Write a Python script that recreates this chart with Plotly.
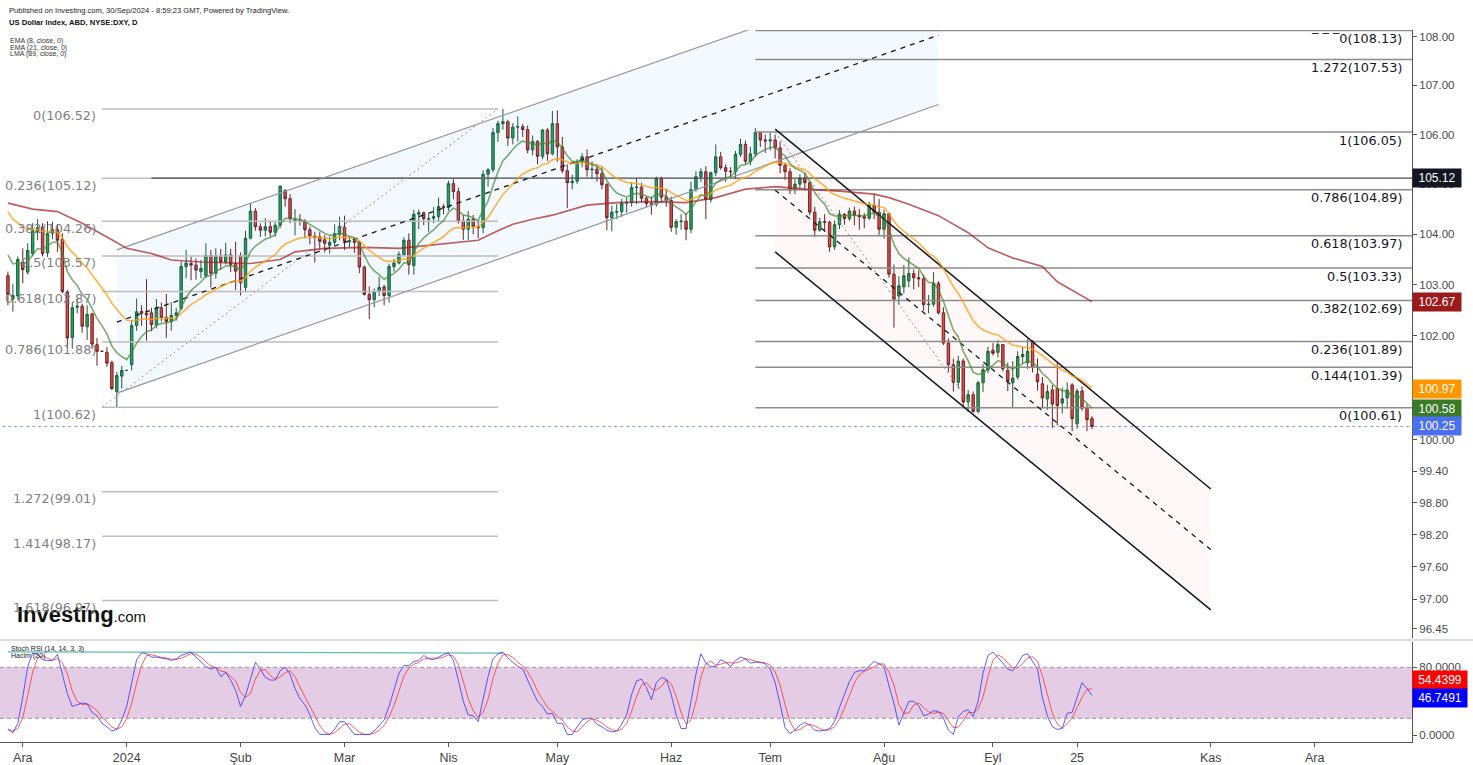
import math
import pandas as pd
import plotly.graph_objects as go

# ---------------- data ----------------
DATES = pd.bdate_range("2023-11-28", "2024-09-30")

OPEN = (
    [103.18, 102.72, 102.78] +  # Nov
    [103.45, 103.25, 103.62, 104.05, 104.14, 103.63, 104.02, 104.09, 103.90, 102.86, 101.97,
     102.56, 102.58, 102.18, 102.43, 101.83, 101.70, 101.68, 101.48, 100.92, 101.22] +  # Dec
    [101.33, 101.44, 102.20, 102.48, 102.44, 102.45, 102.22, 102.55, 102.36, 102.28, 102.40,
     102.54, 103.36, 103.42, 103.39, 103.26, 103.18, 103.58, 103.23, 103.57, 103.45, 103.59, 103.42] +  # Jan
    [103.57, 102.95, 103.92, 104.46, 104.15, 104.08, 104.15, 104.04, 104.18, 104.87, 104.71,
     104.26, 104.28, 104.26, 104.09, 103.96, 103.95, 103.89, 103.78, 103.84, 104.00] +  # Feb
    [104.14, 103.85, 103.87, 103.84, 103.35, 102.81, 102.71, 102.87, 102.96, 102.79, 103.36,
     103.43, 103.60, 103.88, 103.38, 104.40, 104.43, 104.30, 104.32, 104.35, 104.55] +  # Mar
    [104.53, 105.01, 104.85, 104.26, 104.10, 104.30, 104.15, 104.13, 105.20, 105.29, 106.04,
     106.22, 106.26, 105.93, 106.15, 106.16, 106.10, 105.69, 105.86, 105.56, 106.09, 105.61] +  # Apr
    [106.22, 105.75, 105.27, 105.03, 105.06, 105.45, 105.55, 105.29, 105.30, 105.21, 104.99,
     104.33, 104.44, 104.45, 104.62, 104.63, 104.93, 104.94, 104.72, 104.61, 104.60, 105.11, 104.74] +  # May
    [104.67, 104.14, 104.25, 104.26, 104.10, 104.89, 105.15, 105.25, 104.69, 105.23,
     105.55, 105.33, 105.26, 105.25, 105.60, 105.80, 105.46, 105.61, 106.04, 105.89] +  # Jun
    [105.87, 105.89, 105.73, 105.38, 105.25, 104.88, 105.00, 105.12, 105.03, 104.44, 104.08,
     104.25, 104.24, 103.75, 104.19, 104.40, 104.31, 104.46, 104.38, 104.35, 104.32, 104.57, 104.44] +  # Jul
    [104.10, 104.41, 103.21, 102.78, 102.96, 103.08, 103.22, 103.14, 103.12, 102.61, 102.62,
     103.03, 102.45, 101.86, 101.44, 101.10, 101.51, 100.72, 100.86, 100.54, 101.09, 101.34] +  # Aug
    [101.72, 101.68, 101.83, 101.33, 101.09, 101.20, 101.60, 101.48, 101.88, 101.25, 101.07,
     100.78, 100.95, 100.98, 100.70, 100.80, 101.05, 100.30, 100.93, 100.60, 100.40]  # Sep
)
HIGH = (
    [103.26, 103.02, 103.56] +
    [103.72, 103.82, 104.22, 104.30, 104.22, 104.26, 104.25, 104.20, 104.02, 102.90, 102.65,
     102.73, 102.63, 102.60, 102.45, 101.96, 101.70, 101.78, 101.52, 101.30, 101.42] +
    [101.33, 102.30, 102.73, 102.60, 103.11, 102.55, 102.72, 102.65, 102.82, 102.66, 102.55,
     103.46, 103.69, 103.56, 103.52, 103.49, 103.82, 103.69, 103.72, 103.71, 103.83, 103.71, 103.85] +
    [103.64, 104.07, 104.60, 104.52, 104.22, 104.32, 104.25, 104.24, 104.97, 104.90, 104.80,
     104.50, 104.40, 104.30, 104.15, 104.05, 104.05, 103.98, 103.95, 104.20, 104.35] +
    [104.37, 103.95, 103.90, 103.87, 103.38, 102.97, 102.93, 103.16, 103.00, 103.42, 103.51,
     103.66, 103.94, 104.02, 104.49, 104.49, 104.45, 104.40, 104.54, 104.73, 104.60] +
    [105.07, 105.10, 104.93, 104.38, 104.46, 104.38, 104.28, 105.28, 105.32, 106.13, 106.28,
     106.52, 106.30, 106.23, 106.37, 106.21, 106.18, 105.98, 105.89, 106.11, 106.13, 106.48] +
    [106.49, 105.95, 105.40, 105.19, 105.50, 105.62, 105.70, 105.46, 105.37, 105.35, 105.02,
     104.57, 104.60, 104.70, 104.73, 105.04, 105.12, 105.02, 104.75, 104.75, 105.15, 105.15, 104.90] +
    [104.75, 104.30, 104.40, 104.42, 105.05, 105.26, 105.32, 105.36, 105.25, 105.80,
     105.65, 105.40, 105.34, 105.67, 105.91, 105.88, 105.75, 106.13, 106.05, 106.00] +
    [106.04, 106.00, 105.86, 105.43, 105.32, 105.10, 105.20, 105.22, 105.05, 104.55, 104.33,
     104.40, 104.27, 104.27, 104.48, 104.42, 104.53, 104.55, 104.50, 104.42, 104.65, 104.80, 104.70] +
    [104.49, 104.43, 103.40, 103.17, 103.39, 103.54, 103.30, 103.28, 103.20, 102.80, 103.25,
     103.07, 102.56, 101.95, 101.56, 101.61, 101.56, 100.95, 100.92, 101.13, 101.45, 101.79] +
    [101.86, 101.91, 101.84, 101.48, 101.51, 101.70, 101.79, 101.94, 101.92, 101.56, 101.20,
     101.05, 101.05, 101.48, 101.00, 101.10, 101.08, 100.98, 101.02, 100.68, 100.45]
)
LOW = (
    [102.60, 102.47, 102.70] +
    [103.03, 103.20, 103.56, 103.88, 103.56, 103.55, 103.90, 103.65, 102.83, 101.77, 101.75,
     102.44, 102.06, 101.92, 101.75, 101.42, 101.70, 101.40, 100.95, 100.62, 100.98] +
    [101.33, 101.33, 102.10, 102.20, 101.91, 102.09, 102.15, 102.28, 101.96, 102.10, 102.30,
     102.50, 103.13, 103.09, 103.10, 103.13, 103.13, 102.95, 103.12, 103.30, 103.40, 103.25, 102.90] +
    [102.79, 102.85, 103.90, 104.07, 103.95, 103.96, 103.95, 103.95, 104.12, 104.55, 104.22,
     103.98, 104.17, 103.92, 103.80, 103.44, 103.70, 103.64, 103.62, 103.78, 103.88] +
    [103.69, 103.74, 103.63, 103.23, 102.79, 102.33, 102.56, 102.78, 102.60, 102.65, 103.26,
     103.40, 103.57, 103.20, 103.20, 104.10, 104.18, 104.05, 104.22, 104.26, 104.40] +
    [104.47, 104.70, 104.21, 103.89, 103.89, 104.00, 103.92, 104.02, 104.95, 105.24, 105.85,
     106.10, 105.77, 105.80, 105.86, 105.95, 105.62, 105.58, 105.40, 105.50, 105.47, 105.58] +
    [105.45, 105.22, 104.52, 104.90, 105.00, 105.34, 105.15, 105.10, 105.05, 104.90, 104.08,
     104.06, 104.30, 104.35, 104.43, 104.55, 104.60, 104.64, 104.54, 104.39, 104.55, 104.62, 104.55] +
    [104.05, 103.99, 104.09, 103.88, 104.02, 104.85, 105.04, 104.30, 104.63, 105.16,
     105.29, 105.05, 105.13, 105.10, 105.55, 105.40, 105.38, 105.55, 105.75, 105.63] +
    [105.68, 105.52, 105.22, 105.09, 104.80, 104.80, 104.89, 104.87, 104.38, 103.95, 104.05,
     104.05, 103.65, 103.69, 104.10, 104.19, 104.26, 104.18, 104.09, 104.12, 104.28, 104.30, 103.99] +
    [103.91, 103.14, 102.16, 102.61, 102.83, 102.95, 102.91, 102.96, 102.49, 102.44, 102.57,
     102.42, 101.82, 101.30, 100.92, 100.98, 100.60, 100.53, 100.51, 100.50, 100.91, 101.28] +
    [101.62, 101.58, 101.31, 100.93, 100.62, 101.15, 101.47, 101.36, 101.29, 100.94, 100.60,
     100.57, 100.22, 100.27, 100.50, 100.60, 100.16, 100.21, 100.55, 100.16, 100.20]
)
CLOSE = (
    [102.81, 102.79, 103.50] +
    [103.30, 103.68, 104.07, 104.13, 103.62, 104.01, 104.09, 103.88, 102.87, 101.96, 102.55,
     102.58, 102.19, 102.42, 101.84, 101.70, 101.70, 101.47, 100.98, 101.23, 101.33] +
    [101.33, 102.20, 102.47, 102.44, 102.41, 102.22, 102.55, 102.36, 102.28, 102.40, 102.45,
     103.36, 103.43, 103.39, 103.29, 103.32, 103.58, 103.23, 103.57, 103.45, 103.59, 103.40, 103.27] +
    [103.04, 103.92, 104.46, 104.15, 104.08, 104.15, 104.04, 104.18, 104.96, 104.71, 104.31,
     104.29, 104.26, 104.09, 103.97, 103.94, 103.86, 103.82, 103.84, 104.01, 104.15] +
    [103.86, 103.87, 103.84, 103.35, 102.81, 102.71, 102.87, 102.95, 102.79, 103.36, 103.43,
     103.60, 103.88, 103.40, 104.40, 104.43, 104.31, 104.31, 104.35, 104.55, 104.53] +
    [105.01, 104.85, 104.26, 104.10, 104.30, 104.15, 104.13, 105.20, 105.29, 106.04, 106.22,
     106.26, 105.93, 106.15, 106.16, 106.10, 105.69, 105.86, 105.56, 106.09, 105.61, 106.22] +
    [105.75, 105.27, 105.03, 105.06, 105.45, 105.55, 105.29, 105.30, 105.21, 104.99, 104.33,
     104.44, 104.45, 104.62, 104.63, 104.93, 104.94, 104.72, 104.61, 104.60, 105.11, 104.74, 104.67] +
    [104.14, 104.25, 104.26, 104.10, 104.89, 105.15, 105.25, 104.69, 105.23, 105.55,
     105.33, 105.26, 105.25, 105.60, 105.80, 105.46, 105.61, 106.04, 105.89, 105.87] +
    [105.89, 105.73, 105.38, 105.25, 104.88, 105.00, 105.12, 105.03, 104.44, 104.08, 104.25,
     104.24, 103.75, 104.19, 104.40, 104.31, 104.46, 104.38, 104.35, 104.32, 104.57, 104.44, 104.10] +
    [104.41, 103.21, 102.72, 102.98, 103.18, 103.22, 103.14, 103.12, 102.61, 102.62, 103.03,
     102.45, 101.86, 101.44, 101.10, 101.51, 100.72, 100.86, 100.54, 101.09, 101.34, 101.70] +
    [101.66, 101.83, 101.36, 101.12, 101.18, 101.60, 101.64, 101.70, 101.39, 101.11, 100.80,
     100.92, 100.68, 100.65, 100.78, 100.95, 100.40, 100.93, 100.60, 100.38, 100.25]
)

STOCH_K = [
    7, 3, 14, 45, 81, 97, 95, 89, 88, 88, 95, 73, 49, 34, 36, 38, 37, 27, 23, 14, 10, 5, 7, 18, 34,
    61, 89, 97, 96, 92, 92, 91, 90, 88, 90, 94, 96, 98, 92, 86, 81, 78, 80, 69, 74,
    65, 53, 34, 47, 66, 86, 78, 68, 65, 65, 76, 80, 72, 55, 43, 36, 24, 9, 1, 1,
    1, 7, 16, 16, 9, 1, 1, 1, 1, 5, 12, 18, 34, 53, 73, 82, 82, 87, 88, 94,
    90, 89, 92, 95, 97, 88, 65, 40, 24, 23, 16, 42, 69, 90, 96,
    98, 91, 86, 81, 78, 64, 52, 40, 34, 25, 26, 14, 14, 1, 1, 10, 18, 20, 20, 13,
    10, 6, 4, 5, 13, 24, 48, 64, 66, 56, 42, 62, 68, 66, 48, 24, 8, 8, 38, 72,
    96, 85, 81, 81, 89, 86, 81, 88, 92, 90, 85, 86, 86, 84, 78, 62, 37, 9, 2, 6,
    12, 15, 12, 6, 5, 6, 8, 16, 33, 47, 63, 74, 76, 76, 81, 87, 84, 81, 58, 38,
    12, 27, 40, 40, 35, 23, 25, 29, 28, 20, 6, 1, 22, 28, 30, 22, 40, 73, 94, 98,
    92, 85, 78, 76, 84, 94, 96, 87, 78, 44, 23, 10, 7, 8, 26, 27, 45, 62, 55, 47,
]

LMA_DATES = ["2023-11-28", "2023-12-05", "2023-12-12", "2023-12-19", "2023-12-27", "2024-01-01",
             "2024-01-08", "2024-01-12", "2024-01-22", "2024-02-05", "2024-02-13", "2024-02-16",
             "2024-02-26", "2024-03-07", "2024-03-18", "2024-03-26", "2024-04-04", "2024-04-09",
             "2024-04-15", "2024-04-18", "2024-04-24", "2024-04-30", "2024-05-09", "2024-05-17",
             "2024-05-28", "2024-06-06", "2024-06-14", "2024-06-24", "2024-07-02", "2024-07-10",
             "2024-07-19", "2024-07-30", "2024-08-02", "2024-08-08", "2024-08-16", "2024-08-26",
             "2024-08-30", "2024-09-06", "2024-09-16", "2024-09-19", "2024-09-30"]
LMA_VALUES = [104.62, 104.50, 104.45, 104.22, 103.89, 103.72, 103.62, 103.49, 103.45, 103.42,
              103.50, 103.65, 103.72, 103.74, 103.72, 103.78, 103.85, 103.88, 104.07, 104.20,
              104.30, 104.38, 104.58, 104.63, 104.65, 104.63, 104.73, 104.90, 104.95, 104.90,
              104.86, 104.80, 104.73, 104.60, 104.37, 104.03, 103.73, 103.53, 103.36, 103.06, 102.67]
EMA8_START, EMA21_START = 103.59, 104.45

HACIM_DATES = ["2023-11-28", "2024-04-16"]
HACIM_VALUES = [98.2, 96.8]

LEFT_FIB_RATIOS = ["0", "0.236", "0.382", "0.5", "0.618", "0.786", "1", "1.272", "1.414", "1.618"]
LEFT_FIB_PRICES = [106.52, 105.12, 104.26, 103.57, 102.87, 101.88, 100.62, 99.01, 98.17, 96.97]
LEFT_FIB_DATES = ["2023-12-25", "2024-04-15"]
LEFT_FIB_TREND = [100.62, 106.52]

RIGHT_FIB_RATIOS = ["\u203e \u203e \u203e0", "1.272", "1", "0.786", "0.618", "0.5", "0.382", "0.236", "0.144", "0"]
RIGHT_FIB_PRICES = [108.13, 107.53, 106.05, 104.89, 103.97, 103.33, 102.69, 101.89, 101.39, 100.61]
RIGHT_FIB_DATES = ["2024-06-26", "2024-12-31"]
RIGHT_FIB_TREND_DATES = ["2024-07-02", "2024-08-27"]
RIGHT_FIB_TREND = [106.05, 100.61]

ASC_DATES = ["2023-12-28", "2024-08-16"]
ASC_TOP, ASC_MID, ASC_BOT = [103.69, 109.52], [102.27, 108.03], [100.89, 106.61]
DESC_DATES = ["2024-07-02", "2024-11-01"]
DESC_TOP, DESC_MID, DESC_BOT = [106.11, 99.06], [104.88, 97.92], [103.65, 96.80]

HLINE_DATES, HLINE_PRICE = ["2024-01-08", "2024-12-31"], 105.12
LAST_PRICE = 100.25
FULL_DATES = ["2023-11-20", "2024-12-31"]

PRICE_TAGS = [("105.12", 105.12, "#131722"), ("102.67", 102.67, "#9b1b1b"),
              ("100.97", 100.97, "#ff9800"), ("100.58", 100.58, "#3a7a26"),
              ("100.25", 100.25, "#4a6ff0")]
STOCH_TAGS = [("54.4399", 54.4399, "#ff0000", 9), ("46.7491", 46.7491, "#0000ff", -2)]

TICK_DATES = ["2023-12-01", "2024-01-01", "2024-02-01", "2024-03-01", "2024-04-01", "2024-05-01",
              "2024-06-03", "2024-07-01", "2024-08-01", "2024-09-02", "2024-09-25", "2024-11-01",
              "2024-12-02"]
TICK_TEXT = ["Ara", "2024", "Şub", "Mar", "Nis", "May", "Haz", "Tem", "Ağu", "Eyl", "25", "Kas", "Ara"]
Y_TICKS = [108, 107, 106, 105, 104, 103, 102, 101, 100, 99.4, 98.8, 98.2, 97.6, 97, 96.45]
STOCH_TICKS = [0, 40, 80]

assert len(OPEN) == len(HIGH) == len(LOW) == len(CLOSE) == len(STOCH_K) == len(DATES)

# ---------------- derived indicators ----------------
def ema(vals, span, start):
    a = 2.0 / (span + 1)
    out = [start]
    for v in vals[1:]:
        out.append(a * v + (1 - a) * out[-1])
    return out

ema8 = ema(CLOSE, 8, EMA8_START)
ema21 = ema(CLOSE, 21, EMA21_START)
stoch_d = pd.Series(STOCH_K, dtype=float).rolling(3, min_periods=1).mean().tolist()

# ---------------- layout frame ----------------
W, H = 1473, 765
PL, PR, PT, PB = 0, 1412, 30, 742
def px(x): return (x - PL) / (PR - PL)
def py(y): return (PB - y) / (PB - PT)

MAIN_BOTTOM, STOCH_TOP = 638, 642
lg = math.log10

fig = go.Figure()
SK = dict(hoverinfo="skip", showlegend=False)

def seg_trace(xs_list, ys_list, color, width, dash="solid", xa="x", ya="y"):
    xs, ys = [], []
    for a, b in zip(xs_list, ys_list):
        xs += list(a) + [None]
        ys += list(b) + [None]
    return go.Scatter(x=xs, y=ys, mode="lines", line=dict(color=color, width=width, dash=dash),
                      xaxis=xa, yaxis=ya, **SK)

# channel fills
fig.add_trace(go.Scatter(x=[ASC_DATES[0], ASC_DATES[1], ASC_DATES[1], ASC_DATES[0], ASC_DATES[0]],
                         y=[ASC_TOP[0], ASC_TOP[1], ASC_BOT[1], ASC_BOT[0], ASC_TOP[0]],
                         fill="toself", fillcolor="rgba(33,150,243,0.055)", mode="lines",
                         line=dict(width=0), **SK))
fig.add_trace(go.Scatter(x=[DESC_DATES[0], DESC_DATES[1], DESC_DATES[1], DESC_DATES[0], DESC_DATES[0]],
                         y=[DESC_TOP[0], DESC_TOP[1], DESC_BOT[1], DESC_BOT[0], DESC_TOP[0]],
                         fill="toself", fillcolor="rgba(244,67,54,0.035)", mode="lines",
                         line=dict(width=0), **SK))

# fib levels
fig.add_trace(seg_trace([LEFT_FIB_DATES] * len(LEFT_FIB_PRICES), [[p, p] for p in LEFT_FIB_PRICES],
                        "#bdbdbd", 1.5))
fig.add_trace(seg_trace([RIGHT_FIB_DATES] * len(RIGHT_FIB_PRICES), [[p, p] for p in RIGHT_FIB_PRICES],
                        "#8c8c8c", 1.5))
fig.add_trace(seg_trace([HLINE_DATES], [[HLINE_PRICE, HLINE_PRICE]], "#4a4a4a", 1.2))
fig.add_trace(seg_trace([FULL_DATES], [[LAST_PRICE, LAST_PRICE]], "rgba(74,111,240,0.7)", 1, "dot"))

# trend lines
fig.add_trace(seg_trace([LEFT_FIB_DATES, RIGHT_FIB_TREND_DATES], [LEFT_FIB_TREND, RIGHT_FIB_TREND],
                        "#9a9a9a", 1, "2px,3px"))
fig.add_trace(seg_trace([ASC_DATES, ASC_DATES], [ASC_TOP, ASC_BOT], "#9598a1", 1.2))
fig.add_trace(seg_trace([ASC_DATES, DESC_DATES], [ASC_MID, DESC_MID], "#131722", 1.3, "5px,5px"))
fig.add_trace(seg_trace([DESC_DATES, DESC_DATES], [DESC_TOP, DESC_BOT], "#131722", 1.5))

# candles
fig.add_trace(go.Candlestick(
    x=DATES, open=OPEN, high=HIGH, low=LOW, close=CLOSE,
    increasing=dict(line=dict(color="#1b5e36", width=1), fillcolor="#26a35e"),
    decreasing=dict(line=dict(color="#6e1f1f", width=1), fillcolor="#e0504a"),
    whiskerwidth=0, hoverinfo="skip", showlegend=False))

# moving averages
fig.add_trace(go.Scatter(x=LMA_DATES, y=LMA_VALUES, mode="lines",
                         line=dict(color="rgba(165,30,30,0.72)", width=1.6), **SK))
fig.add_trace(go.Scatter(x=DATES, y=ema21, mode="lines",
                         line=dict(color="rgba(255,160,20,0.8)", width=1.6), **SK))
fig.add_trace(go.Scatter(x=DATES, y=ema8, mode="lines",
                         line=dict(color="rgba(70,135,55,0.7)", width=1.6), **SK))

# stoch rsi panel
fig.add_trace(go.Scatter(x=HACIM_DATES, y=HACIM_VALUES, mode="lines", xaxis="x2", yaxis="y2",
                         line=dict(color="rgba(38,166,154,0.75)", width=1.3), **SK))
fig.add_trace(go.Scatter(x=DATES, y=stoch_d, mode="lines", xaxis="x2", yaxis="y2",
                         line=dict(color="rgba(255,40,40,0.75)", width=1), **SK))
fig.add_trace(go.Scatter(x=DATES, y=STOCH_K, mode="lines", xaxis="x2", yaxis="y2",
                         line=dict(color="rgba(40,40,255,0.75)", width=1), **SK))

XRANGE = ["2023-11-24 09:36", "2024-12-27 15:50"]
RB = [dict(bounds=["sat", "mon"])]
main_dom_bottom = py(MAIN_BOTTOM)
stoch_dom_top = py(STOCH_TOP)

TICKFONT = dict(family="Liberation Sans, Arial", size=11.5, color="#4a4a4a")
fig.update_layout(
    width=W, height=H, margin=dict(l=PL, r=W - PR, t=PT, b=H - PB),
    paper_bgcolor="white", plot_bgcolor="white",
    font=dict(family="Liberation Sans, Arial, sans-serif", color="#333"),
    xaxis=dict(domain=[0, 1], anchor="y", range=XRANGE, rangebreaks=RB, showticklabels=False,
               showgrid=False, zeroline=False, showline=False, ticks="",
               rangeslider=dict(visible=False)),
    xaxis2=dict(domain=[0, 1], anchor="y2", matches="x", range=XRANGE, rangebreaks=RB,
                tickmode="array", tickvals=TICK_DATES, ticktext=TICK_TEXT, ticks="outside",
                ticklen=4, tickcolor="#555", showline=True, linecolor="#555", linewidth=1,
                showgrid=False, zeroline=False,
                tickfont=dict(family="Liberation Sans, Arial", size=12.5, color="#444")),
    yaxis=dict(domain=[main_dom_bottom, 1], anchor="x", side="right", type="log",
               range=[lg(96.28), lg(108.138)], tickmode="array", tickvals=Y_TICKS,
               ticktext=["%.2f" % v for v in Y_TICKS], ticks="outside", ticklen=4, tickcolor="#555",
               showline=True, linecolor="#555", linewidth=1, showgrid=False, zeroline=False,
               tickfont=TICKFONT),
    yaxis2=dict(domain=[0, stoch_dom_top], anchor="x2", side="right", range=[-7.9, 109.8],
                tickmode="array", tickvals=STOCH_TICKS, ticktext=["%.4f" % v for v in STOCH_TICKS],
                ticks="outside", ticklen=4, tickcolor="#555", showline=True, linecolor="#555",
                linewidth=1, showgrid=False, zeroline=False, tickfont=TICKFONT),
)

shapes = [
    dict(type="rect", xref="paper", yref="y2", x0=0, x1=1, y0=20, y1=80,
         fillcolor="rgba(126,0,126,0.2)", line=dict(width=0), layer="below"),
    dict(type="line", xref="paper", yref="y2", x0=0, x1=1, y0=80, y1=80,
         line=dict(color="#a08ca0", width=1, dash="4px,3px")),
    dict(type="line", xref="paper", yref="y2", x0=0, x1=1, y0=20, y1=20,
         line=dict(color="#a08ca0", width=1, dash="4px,3px")),
    dict(type="line", xref="paper", yref="paper", x0=0, x1=W / PR, y0=py(640), y1=py(640),
         line=dict(color="#dcdcdc", width=2)),
]
fig.update_layout(shapes=shapes)

ann = []
# header
ann.append(dict(text="Published on Investing.com, 30/Sep/2024 - 8:59:23 GMT, Powered by TradingView.",
                x=px(7), y=py(10), font=dict(size=7.6, color="#222")))
ann.append(dict(text="<b>US Dollar Index, ABD, NYSE:DXY, D</b>", x=px(7), y=py(23),
                font=dict(size=7.6, color="#111")))
for i, t in enumerate(["EMA (8, close, 0)", "EMA (21, close, 0)", "LMA (89, close, 0)"]):
    ann.append(dict(text=t, x=px(8), y=py(41.5 + 6.2 * i), font=dict(size=7, color="#333")))
ann.append(dict(text="Stoch RSI (14, 14, 3, 3)", x=px(9), y=py(648.5), font=dict(size=7, color="#222")))
ann.append(dict(text="Hacim (20)", x=px(9), y=py(655.5), font=dict(size=7, color="#222")))
for a in ann:
    a.update(xref="paper", yref="paper", xanchor="left", yanchor="middle", showarrow=False)

# logo
ann.append(dict(text="<b>Investing</b><span style='font-size:15px'>.com</span>", x=px(15), y=py(614),
                xref="paper", yref="paper", xanchor="left", yanchor="middle", showarrow=False,
                font=dict(size=22, color="#111", family="Liberation Sans, Arial")))

# fib labels
for r, p in zip(LEFT_FIB_RATIOS, LEFT_FIB_PRICES):
    ann.append(dict(text="%s(%.2f)" % (r, p), x=LEFT_FIB_DATES[0], xref="x", xanchor="right",
                    xshift=-4, y=lg(p), yref="y", yanchor="middle", yshift=-7, showarrow=False,
                    font=dict(family="DejaVu Sans", size=12.8, color="#808080")))
for r, p in zip(RIGHT_FIB_RATIOS, RIGHT_FIB_PRICES):
    ann.append(dict(text="%s(%.2f)" % (r, p), x=px(1404), xref="paper", xanchor="right",
                    y=lg(p), yref="y", yanchor="middle", yshift=-8, showarrow=False,
                    font=dict(family="DejaVu Sans", size=12.8, color="#131722")))

# axis price tags
for t, p, c in PRICE_TAGS:
    ann.append(dict(text=t, x=1, xref="paper", xanchor="left", y=lg(p), yref="y", yanchor="middle",
                    showarrow=False, bgcolor=c, borderpad=2, width=44, align="center",
                    font=dict(size=12, color="white", family="Liberation Sans, Arial")))
for t, v, c, sh in STOCH_TAGS:
    ann.append(dict(text=t, x=1, xref="paper", xanchor="left", y=v, yref="y2", yanchor="middle",
                    yshift=sh, showarrow=False, bgcolor=c, borderpad=2, width=50, align="center",
                    font=dict(size=12, color="white", family="Liberation Sans, Arial")))

fig.update_layout(annotations=ann)
fig.write_html("out.html", config={"displayModeBar": False},
               post_script="document.body.style.margin='0px';document.body.style.overflow='hidden';")
